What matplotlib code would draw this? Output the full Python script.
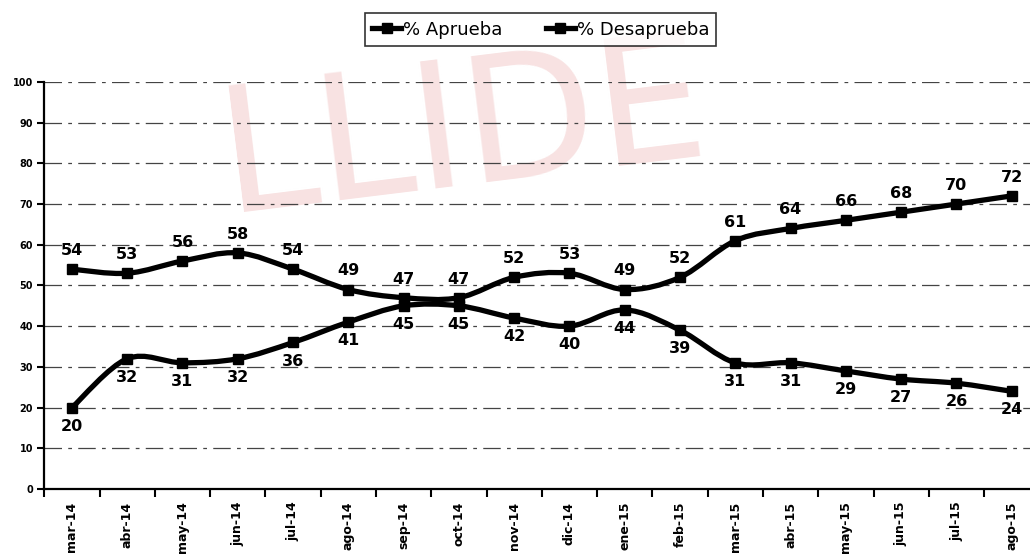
import numpy as np
import matplotlib
matplotlib.use('Agg')
import matplotlib.pyplot as plt
from matplotlib.path import Path
from matplotlib.patches import PathPatch

months = ['mar-14', 'abr-14', 'may-14', 'jun-14', 'jul-14', 'ago-14', 'sep-14',
          'oct-14', 'nov-14', 'dic-14', 'ene-15', 'feb-15', 'mar-15', 'abr-15',
          'may-15', 'jun-15', 'jul-15', 'ago-15']
aprueba = [20, 32, 31, 32, 36, 41, 45, 45, 42, 40, 44, 39, 31, 31, 29, 27, 26, 24]
desaprueba = [54, 53, 56, 58, 54, 49, 47, 47, 52, 53, 49, 52, 61, 64, 66, 68, 70, 72]

plt.rcParams['font.family'] = ['DejaVu Sans']


def smooth_path(x, y):
    # excel-like smoothed line as bezier segments
    x = np.asarray(x, float)
    y = np.asarray(y, float)
    verts = [(x[0], y[0])]
    codes = [Path.MOVETO]
    n = len(x)
    for i in range(n - 1):
        p0 = (x[max(i - 1, 0)], y[max(i - 1, 0)])
        p1 = (x[i], y[i])
        p2 = (x[i + 1], y[i + 1])
        p3 = (x[min(i + 2, n - 1)], y[min(i + 2, n - 1)])
        c1 = (p1[0] + (p2[0] - p0[0]) / 6, p1[1] + (p2[1] - p0[1]) / 6)
        c2 = (p2[0] - (p3[0] - p1[0]) / 6, p2[1] - (p3[1] - p1[1]) / 6)
        verts += [c1, c2, p2]
        codes += [Path.CURVE4] * 3
    return Path(verts, codes)


fig = plt.figure(figsize=(10.30, 5.57), dpi=100)

# faint red watermark behind everything
fig.text(0.45, 0.76, 'LLIDE', fontsize=125, color='#f8e2e2',
         ha='center', va='center', rotation=7, zorder=-5)

ax = fig.add_axes([0.043, 0.122, 0.957, 0.731])
ax.patch.set_alpha(0)
x = np.arange(len(months))

for vals in (aprueba, desaprueba):
    ax.add_patch(PathPatch(smooth_path(x, vals), fill=False, lw=3.8,
                           edgecolor='black', zorder=3, capstyle='round'))

l1, = ax.plot(x, aprueba, ls='None', lw=3.8, color='black', marker='s', ms=7,
              label='% Aprueba', zorder=4)
l2, = ax.plot(x, desaprueba, ls='None', lw=3.8, color='black', marker='s', ms=7,
              label='% Desaprueba', zorder=4)

for xi, v in zip(x, desaprueba):
    ax.annotate(str(v), (xi, v), xytext=(0, 8), textcoords='offset points',
                ha='center', va='bottom', fontsize=11.5, fontweight='bold', zorder=5)
for xi, v in zip(x, aprueba):
    ax.annotate(str(v), (xi, v), xytext=(0, -8), textcoords='offset points',
                ha='center', va='top', fontsize=11.5, fontweight='bold', zorder=5)

ax.set_ylim(0, 100)
ax.set_xlim(-0.5, 17.33)
ax.set_yticks(np.arange(0, 101, 10))
ax.tick_params(axis='y', labelsize=7, length=5, width=1.5, pad=3)
for t in ax.get_yticklabels():
    t.set_fontweight('bold')

ax.set_xticks(np.arange(-0.5, 17.5, 1))
ax.set_xticklabels([])
ax.tick_params(axis='x', which='major', length=6, width=1.5, direction='out')
ax.set_xticks(x, minor=True)
ax.set_xticklabels(months, minor=True, rotation=90, fontsize=9, fontweight='bold')
ax.tick_params(axis='x', which='minor', length=0, pad=9)

for s in ('top', 'right'):
    ax.spines[s].set_visible(False)
ax.spines['left'].set_linewidth(1.6)
ax.spines['bottom'].set_linewidth(1.6)

ax.grid(axis='y', color='#444444', lw=0.9, ls=(0, (14, 5, 3, 5)), zorder=1)
ax.set_axisbelow(True)

leg = fig.legend(handles=[l1, l2], loc='center', bbox_to_anchor=(0.525, 0.947),
                 ncol=2, fontsize=13, frameon=True, fancybox=False,
                 edgecolor='black', handlelength=1.6, handletextpad=0.1,
                 columnspacing=2.4, borderpad=0.4, borderaxespad=0)
for h in leg.legend_handles:
    h.set_linestyle('-')
leg.get_frame().set_linewidth(1.2)

fig.savefig('out.png', dpi=100)
